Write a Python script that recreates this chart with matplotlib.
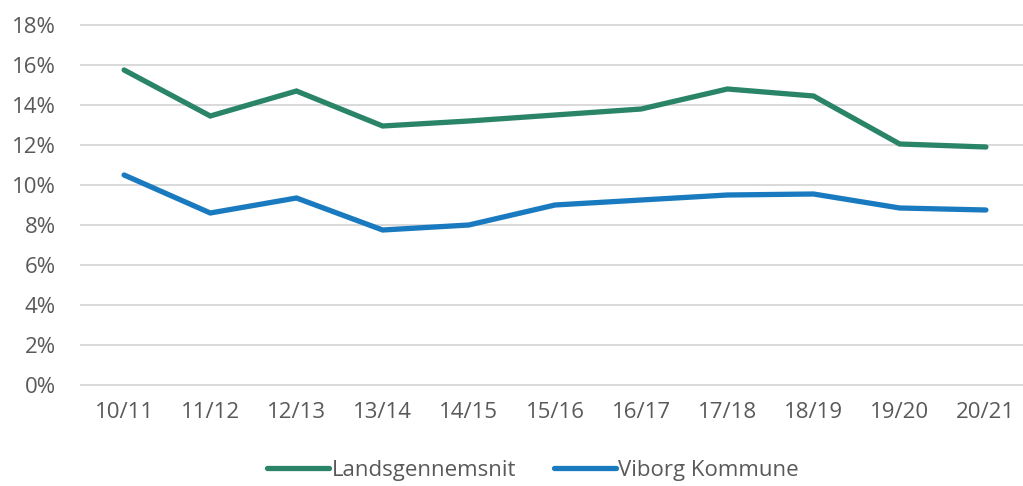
import matplotlib.pyplot as plt
from matplotlib.ticker import FuncFormatter

years = ["10/11", "11/12", "12/13", "13/14", "14/15", "15/16",
         "16/17", "17/18", "18/19", "19/20", "20/21"]
landsgennemsnit = [15.75, 13.45, 14.7, 12.95, 13.2, 13.5, 13.8, 14.8, 14.45, 12.05, 11.9]
viborg = [10.5, 8.6, 9.35, 7.75, 8.0, 9.0, 9.25, 9.5, 9.55, 8.85, 8.75]

plt.rcParams['font.family'] = ['Open Sans', 'DejaVu Sans']
text_col = "#595959"
fs = 16

fig = plt.figure(figsize=(10.23, 4.86), dpi=100)
ax = fig.add_axes([81 / 1023, 101 / 486, 948 / 1023, 360 / 486])

x = list(range(len(years)))
ax.plot(x, landsgennemsnit, color="#2a8468", lw=3.8, solid_capstyle="round",
        solid_joinstyle="miter", label="Landsgennemsnit")
ax.plot(x, viborg, color="#1a7abf", lw=3.8, solid_capstyle="round",
        solid_joinstyle="miter", label="Viborg Kommune")

ax.set_xlim(-0.5, len(years) - 0.5)
ax.set_ylim(0, 18)
ax.set_yticks(range(0, 19, 2))
ax.yaxis.set_major_formatter(FuncFormatter(lambda v, p: f"{int(v)}%"))
ax.set_xticks(x)
ax.set_xticklabels(years)
ax.grid(axis="y", color="#d9d9d9", lw=1.4, clip_on=False)
ax.set_axisbelow(True)
for s in ax.spines.values():
    s.set_visible(False)
ax.tick_params(length=0, labelsize=fs, colors=text_col)
ax.tick_params(axis="x", pad=12)
ax.tick_params(axis="y", pad=18)

leg = fig.legend(loc="center", bbox_to_anchor=(533 / 1023, 1 - 470 / 486), ncol=2,
                 frameon=False, fontsize=fs, handlelength=2.8, handletextpad=0.1,
                 columnspacing=1.7)
for t in leg.get_texts():
    t.set_color(text_col)

fig.savefig("out.png", dpi=100)
